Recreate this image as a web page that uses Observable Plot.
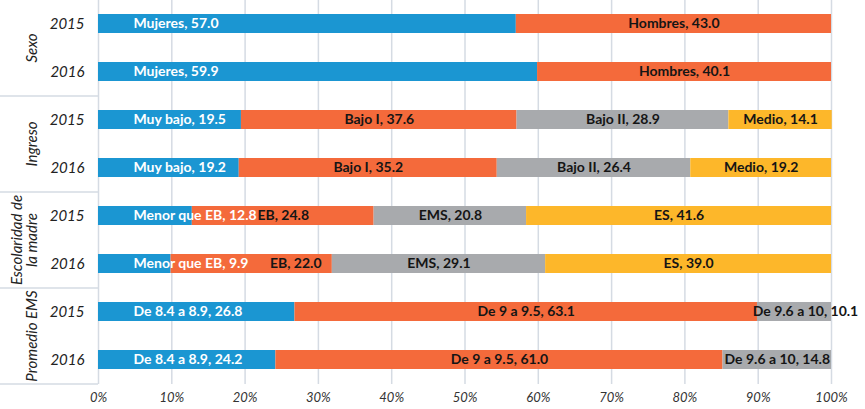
<!DOCTYPE html>
<html><head><meta charset="utf-8">
<script src="https://cdn.jsdelivr.net/npm/d3@7"></script>
<script src="https://cdn.jsdelivr.net/npm/@observablehq/plot@0.6"></script>
<style>body{margin:0;background:#fff;}</style>
</head><body><div id="chart"></div>
<script>
const groups = ["Sexo", "Ingreso", "Escolaridad de\nla madre", "Promedio EMS"];
const years = ["2015", "2016"];
const sexoCats = ["Mujeres", "Hombres"];
const sexo2015 = [57.0, 43.0];
const sexo2016 = [59.9, 40.1];
const ingresoCats = ["Muy bajo", "Bajo I", "Bajo II", "Medio"];
const ingreso2015 = [19.5, 37.6, 28.9, 14.1];
const ingreso2016 = [19.2, 35.2, 26.4, 19.2];
const escolaridadCats = ["Menor que EB", "EB", "EMS", "ES"];
const escolaridad2015 = [12.8, 24.8, 20.8, 41.6];
const escolaridad2016 = [9.9, 22.0, 29.1, 39.0];
const promedioCats = ["De 8.4 a 8.9", "De 9 a 9.5", "De 9.6 a 10"];
const promedio2015 = [26.8, 63.1, 10.1];
const promedio2016 = [24.2, 61.0, 14.8];
const xTicks = [0, 10, 20, 30, 40, 50, 60, 70, 80, 90, 100];

const palette = ["#1b96d2", "#f46a3b", "#a8aaad", "#fdb72a"];
const groupData = [
  {group: groups[0], cats: sexoCats, series: [sexo2015, sexo2016]},
  {group: groups[1], cats: ingresoCats, series: [ingreso2015, ingreso2016]},
  {group: groups[2], cats: escolaridadCats, series: [escolaridad2015, escolaridad2016]},
  {group: groups[3], cats: promedioCats, series: [promedio2015, promedio2016]}
];
const rows = [], segs = [];
groupData.forEach((g, gi) => years.forEach((yr, yi) => {
  const key = gi + "|" + yr;
  rows.push({key, group: g.group, year: yr, gi, yi});
  let acc = 0;
  g.series[yi].forEach((v, i) => {
    segs.push({key, gi, yi, i, cat: g.cats[i], value: v, x1: acc, x2: acc + v,
      label: `${g.cats[i]}, ${v.toFixed(1)}`});
    acc += v;
  });
}));

const W = 865, H = 409, ML = 98, MR = 34, MB = 25;
const k = (W - ML - MR) / 100;
const px = p => (p - ML) / k; // pixel -> x units (for decorations in margin)

// label nudges (styling)
const nudge = {"2|2016|1": 44, "3|2015|2": 11};
const nk = d => d.key + "|" + d.i;
const FONT = "Lato, 'Open Sans', sans-serif";
const grid = "#d5dbe3";

const chart = Plot.plot({
  width: W, height: H,
  marginLeft: ML, marginRight: MR, marginTop: 0, marginBottom: MB,
  style: {fontFamily: FONT, background: "#fff"},
  x: {domain: [0, 100], label: null},
  y: {type: "band", domain: rows.map(r => r.key), paddingInner: 0.6, paddingOuter: 0.3, label: null},
  marks: [
    Plot.gridX(xTicks, {stroke: grid, strokeOpacity: 1, strokeWidth: 1.5}),
    Plot.ruleY(rows.filter(r => r.yi === 0 && r.gi > 0), {y: "key", dy: -24, x1: px(0), x2: 0, stroke: grid, strokeWidth: 1.5}),
    Plot.ruleY(rows.slice(-1), {y: "key", dy: 24, x1: px(0), x2: 0, stroke: grid, strokeWidth: 1.5}),
    Plot.barX(segs, {y: "key", x1: "x1", x2: "x2", fill: d => palette[d.i]}),
    Plot.text(segs.filter(d => d.i === 0), {y: "key", x: "x1", text: "label", textAnchor: "start", dx: 35,
      fill: "white", fontWeight: "bold", fontSize: 14}),
    Plot.text(segs.filter(d => d.i > 0 && !(nk(d) in nudge)), {y: "key", x: d => (d.x1 + d.x2) / 2, text: "label",
      fill: "#151515", fontWeight: "bold", fontSize: 14}),
    ...segs.filter(d => nk(d) in nudge).map(d => Plot.text([d], {y: "key", x: d => (d.x1 + d.x2) / 2, text: "label",
      dx: nudge[nk(d)], fill: "#151515", fontWeight: "bold", fontSize: 14})),
    Plot.text(rows.filter(r => r.yi === 0), {y: "key", x: px(36), dy: 24, text: "group", rotate: -90,
      lineAnchor: "bottom", fontStyle: "italic", fontSize: 15, fill: "#222"}),
    Plot.axisY({tickFormat: d => d.split("|")[1], tickSize: 0, tickPadding: 14, fontStyle: "italic", fontSize: 15, fill: "#222", label: null}),
    Plot.axisX(xTicks, {tickFormat: d => d + "%", tickSize: 0, tickPadding: 8, fontStyle: "italic", fontSize: 13, fill: "#333", label: null})
  ]
});
document.getElementById("chart").appendChild(chart);
</script>
</body></html>
